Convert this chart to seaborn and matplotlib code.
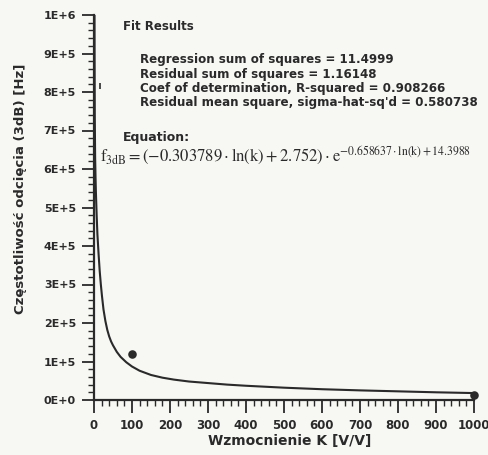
import numpy as np
import pandas as pd
import seaborn as sns
import matplotlib
matplotlib.use("Agg")
import matplotlib.pyplot as plt
from matplotlib.ticker import MultipleLocator, FuncFormatter

# Fitted curve (K in V/V, f in Hz)
curve_k = [1, 1.5, 2, 3, 4, 5, 7, 9, 12, 15, 18, 21, 25, 30, 35, 40, 45, 50,
           60, 70, 85, 100, 120, 150, 180, 210, 250, 300, 350, 400, 450, 500,
           600, 700, 800, 900, 1000]
curve_f = [12.0e5, 9.0e5, 7.4e5, 6.3e5, 5.8e5, 5.4e5, 4.8e5, 4.3e5, 3.8e5,
           3.35e5, 3.0e5, 2.7e5, 2.35e5, 2.05e5, 1.82e5, 1.65e5, 1.52e5,
           1.42e5, 1.25e5, 1.12e5, 0.98e5, 0.87e5, 0.76e5, 0.65e5, 0.58e5,
           0.53e5, 0.48e5, 0.44e5, 0.40e5, 0.37e5, 0.345e5, 0.32e5, 0.28e5,
           0.25e5, 0.225e5, 0.20e5, 0.18e5]

# Measured points
meas_k = [100, 1000]
meas_f = [1.2e5, 0.12e5]
hidden_k = [17]
hidden_f = [8.15e5]

fit_lines = [
    "Regression sum of squares = 11.4999",
    "Residual sum of squares = 1.16148",
    "Coef of determination, R-squared = 0.908266",
    "Residual mean square, sigma-hat-sq'd = 0.580738",
]

sns.set_style("ticks")
plt.rcParams['font.family'] = ['DejaVu Sans']
plt.rcParams['mathtext.fontset'] = 'stix'

ink = '#2a2a2a'
bg = '#f7f7f3'

fig = plt.figure(figsize=(4.89, 4.55), dpi=100, facecolor=bg)
ax = fig.add_axes([94/489, 1-400/455, (474-94)/489, (400-15)/455])
ax.set_facecolor(bg)

df_curve = pd.DataFrame({'K': curve_k, 'f': curve_f})
df_meas = pd.DataFrame({'K': meas_k, 'f': meas_f})
sns.lineplot(data=df_curve, x='K', y='f', ax=ax, color=ink, linewidth=1.5,
             sort=False)
sns.scatterplot(data=df_meas, x='K', y='f', ax=ax, color=ink, s=38,
                edgecolor=ink, linewidth=0, zorder=5, clip_on=False)
ax.plot(hidden_k, hidden_f, linestyle='none', marker='|', markersize=5,
        color=ink, markeredgewidth=1.2)

ax.set_xlim(0, 1000)
ax.set_ylim(0, 1e6)
sns.despine(ax=ax)
for s in ['left', 'bottom']:
    ax.spines[s].set_linewidth(1.6)
    ax.spines[s].set_color(ink)

ax.xaxis.set_major_locator(MultipleLocator(100))
ax.xaxis.set_minor_locator(MultipleLocator(20))
ax.yaxis.set_major_locator(MultipleLocator(1e5))
ax.yaxis.set_minor_locator(MultipleLocator(2e4))


def efmt(v, pos):
    if v == 0:
        return "0E+0"
    e = int(np.floor(np.log10(abs(v)) + 1e-9))
    return f"{v / 10**e:.0f}E+{e}"


ax.yaxis.set_major_formatter(FuncFormatter(efmt))
ax.tick_params(which='major', direction='out', length=9, width=1.3,
               color=ink, labelsize=8, labelcolor=ink, pad=4)
ax.tick_params(axis='x', which='major', labelsize=8.5, pad=5)
ax.tick_params(which='minor', direction='out', length=4, width=1.0, color=ink)
for lab in ax.get_xticklabels() + ax.get_yticklabels():
    lab.set_fontweight('bold')

ax.set_xlabel("Wzmocnienie K [V/V]", fontsize=10, fontweight='bold',
              color=ink)
ax.set_ylabel("Częstotliwość odcięcia (3dB) [Hz]", fontsize=9.5,
              fontweight='bold', color=ink)
ax.xaxis.set_label_coords((290-94)/380, -(434-400)/385)
ax.yaxis.set_label_coords(-(94-27)/380, (400-189)/385)

fig.text(123/489, 1-27/455, "Fit Results", fontsize=8.5, fontweight='bold',
         color=ink, va='center', ha='left')
for i, line in enumerate(fit_lines):
    fig.text(140/489, 1-(60+14.3*i)/455, line, fontsize=8.6,
             fontweight='bold', color=ink, va='center', ha='left')
fig.text(123/489, 1-137/455, "Equation:", fontsize=9, fontweight='bold',
         color=ink, va='center', ha='left')
eq = (r"$\mathrm{f}_{\mathrm{3dB}} = (-0.303789\cdot\mathrm{ln}(\mathrm{k})"
      r" + 2.752)\cdot\mathrm{e}^{-0.658637\cdot\mathrm{ln}(\mathrm{k})+14.3988}$")
fig.text(100/489, 1-156/455, eq, fontsize=12, color=ink, va='center',
         ha='left')

fig.savefig("out.png", dpi=100, facecolor=bg)
